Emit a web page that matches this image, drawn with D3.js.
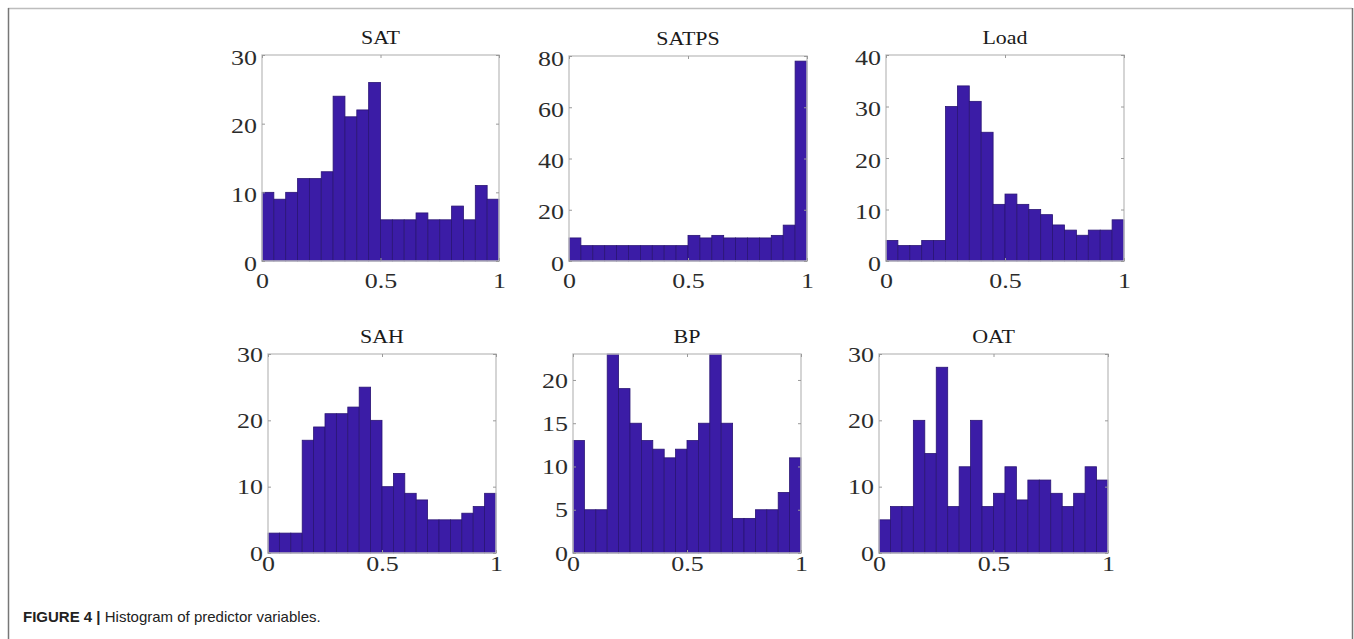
<!DOCTYPE html>
<html>
<head>
<meta charset="utf-8">
<script src="https://cdn.jsdelivr.net/npm/d3@7"></script>
<style>
  body { margin: 0; background: #fff; }
  svg { display: block; }
</style>
</head>
<body>
<svg width="1354" height="639"></svg>
<script>
// histogram counts, 20 bins over [0,1]
var names = ["SAT", "SATPS", "Load", "SAH", "BP", "OAT"];
var satCounts   = [10, 9, 10, 12, 12, 13, 24, 21, 22, 26, 6, 6, 6, 7, 6, 6, 8, 6, 11, 9];
var satpsCounts = [9, 6, 6, 6, 6, 6, 6, 6, 6, 6, 10, 9, 10, 9, 9, 9, 9, 10, 14, 78];
var loadCounts  = [4, 3, 3, 4, 4, 30, 34, 31, 25, 11, 13, 11, 10, 9, 7, 6, 5, 6, 6, 8];
var sahCounts   = [3, 3, 3, 17, 19, 21, 21, 22, 25, 20, 10, 12, 9, 8, 5, 5, 5, 6, 7, 9];
var bpCounts    = [13, 5, 5, 23, 19, 15, 13, 12, 11, 12, 13, 15, 23, 15, 4, 4, 5, 5, 7, 11];
var oatCounts   = [5, 7, 7, 20, 15, 28, 7, 13, 20, 7, 9, 13, 8, 11, 11, 9, 7, 9, 13, 11];
var yMax   = [30, 80, 40, 30, 23, 30];
var yTicks = [[0, 10, 20, 30], [0, 20, 40, 60, 80], [0, 10, 20, 30, 40], [0, 10, 20, 30], [0, 5, 10, 15, 20], [0, 10, 20, 30]];
var xTicks = [0, 0.5, 1];
var caption = "Histogram of predictor variables.";

var counts = [satCounts, satpsCounts, loadCounts, sahCounts, bpCounts, oatCounts];

// panel boxes (left, right, top, bottom, x-label gap, y-label shift)
var layout = [
  [262, 499, 55, 261, 11, 2],
  [569, 807, 56, 261, 11, 2],
  [886, 1124, 55, 261, 11, 2],
  [268, 496, 354, 553, 2, 0],
  [573, 801, 354, 553, 2, 0],
  [879, 1108, 354, 553, 2, 0]
];

var svg = d3.select("svg");
var barColor = "#3b1ca6";
var serif = "'Liberation Serif', 'Times New Roman', serif";

// the source figure is stretched sideways; widen text to match
function widen(sel, f) {
  sel.each(function() {
    var len = this.getComputedTextLength();
    if (len > 0) d3.select(this).attr("textLength", len * f).attr("lengthAdjust", "spacingAndGlyphs");
  });
}

// page frame
svg.append("line").attr("x1", 8).attr("x2", 1352).attr("y1", 8.5).attr("y2", 8.5)
  .attr("stroke", "#bdbdbd").attr("stroke-width", 1.5);
svg.append("line").attr("x1", 8.5).attr("x2", 8.5).attr("y1", 8).attr("y2", 639)
  .attr("stroke", "#777").attr("stroke-width", 1.5);
svg.append("line").attr("x1", 1352.5).attr("x2", 1352.5).attr("y1", 8).attr("y2", 639)
  .attr("stroke", "#777").attr("stroke-width", 1.5);

names.forEach(function(name, k) {
  var L = layout[k];
  var x = d3.scaleLinear().domain([0, 1]).range([L[0], L[1]]);
  var y = d3.scaleLinear().domain([0, yMax[k]]).range([L[3], L[2]]);
  var g = svg.append("g");
  var n = counts[k].length;

  g.selectAll("rect.bar")
    .data(counts[k])
    .enter().append("rect")
      .attr("class", "bar")
      .attr("x", function(d, i) { return x(i / n); })
      .attr("width", function(d, i) { return x((i + 1) / n) - x(i / n); })
      .attr("y", function(d) { return y(Math.min(d, yMax[k])); })
      .attr("height", function(d) { return y(0) - y(Math.min(d, yMax[k])); })
      .attr("fill", barColor)
      .attr("stroke", "#2a1475")
      .attr("stroke-width", 0.8);

  // box
  g.append("rect")
    .attr("x", L[0]).attr("y", L[2])
    .attr("width", L[1] - L[0]).attr("height", L[3] - L[2])
    .attr("fill", "none").attr("stroke", "#c4c4c4").attr("stroke-width", 1.4);

  var fmt = function(d) { return d === 0.5 ? "0.5" : String(d); };

  var xa = g.append("g")
    .attr("transform", "translate(0," + L[3] + ")")
    .call(d3.axisBottom(x).tickValues(xTicks).tickSize(-3).tickPadding(L[4]).tickFormat(fmt));
  var xt = g.append("g")
    .attr("transform", "translate(0," + L[2] + ")")
    .call(d3.axisTop(x).tickValues(xTicks).tickSize(-3).tickFormat(""));
  var ya = g.append("g")
    .attr("transform", "translate(" + L[0] + "," + L[5] + ")")
    .call(d3.axisLeft(y).tickValues(yTicks[k]).tickSize(0).tickPadding(5));
  var yl = g.append("g")
    .attr("transform", "translate(" + L[0] + ",0)")
    .call(d3.axisLeft(y).tickValues(yTicks[k]).tickSize(-3).tickFormat(""));
  var yr = g.append("g")
    .attr("transform", "translate(" + L[1] + ",0)")
    .call(d3.axisRight(y).tickValues(yTicks[k]).tickSize(-3).tickFormat(""));

  [xa, xt, ya, yl, yr].forEach(function(a) {
    a.select(".domain").remove();
    a.selectAll(".tick line").attr("stroke", "#9a9a9a");
    a.selectAll("text")
      .attr("font-family", serif)
      .attr("font-size", 22)
      .attr("fill", "#2b2b2b");
  });
  widen(xa.selectAll("text"), 1.18);
  widen(ya.selectAll("text"), 1.18);

  var t = g.append("text")
    .attr("x", (L[0] + L[1]) / 2)
    .attr("y", L[2] - 11)
    .attr("text-anchor", "middle")
    .attr("font-family", serif)
    .attr("font-size", 18)
    .attr("fill", "#1a1a1a")
    .text(name);
  widen(t, 1.22);
});

var cap = svg.append("text")
  .attr("x", 23).attr("y", 622)
  .attr("font-family", "'Liberation Sans', Arial, sans-serif")
  .attr("font-size", 15)
  .attr("fill", "#222");
cap.append("tspan").attr("font-weight", "bold").text("FIGURE 4 | ");
cap.append("tspan").text(caption);
</script>
</body>
</html>
